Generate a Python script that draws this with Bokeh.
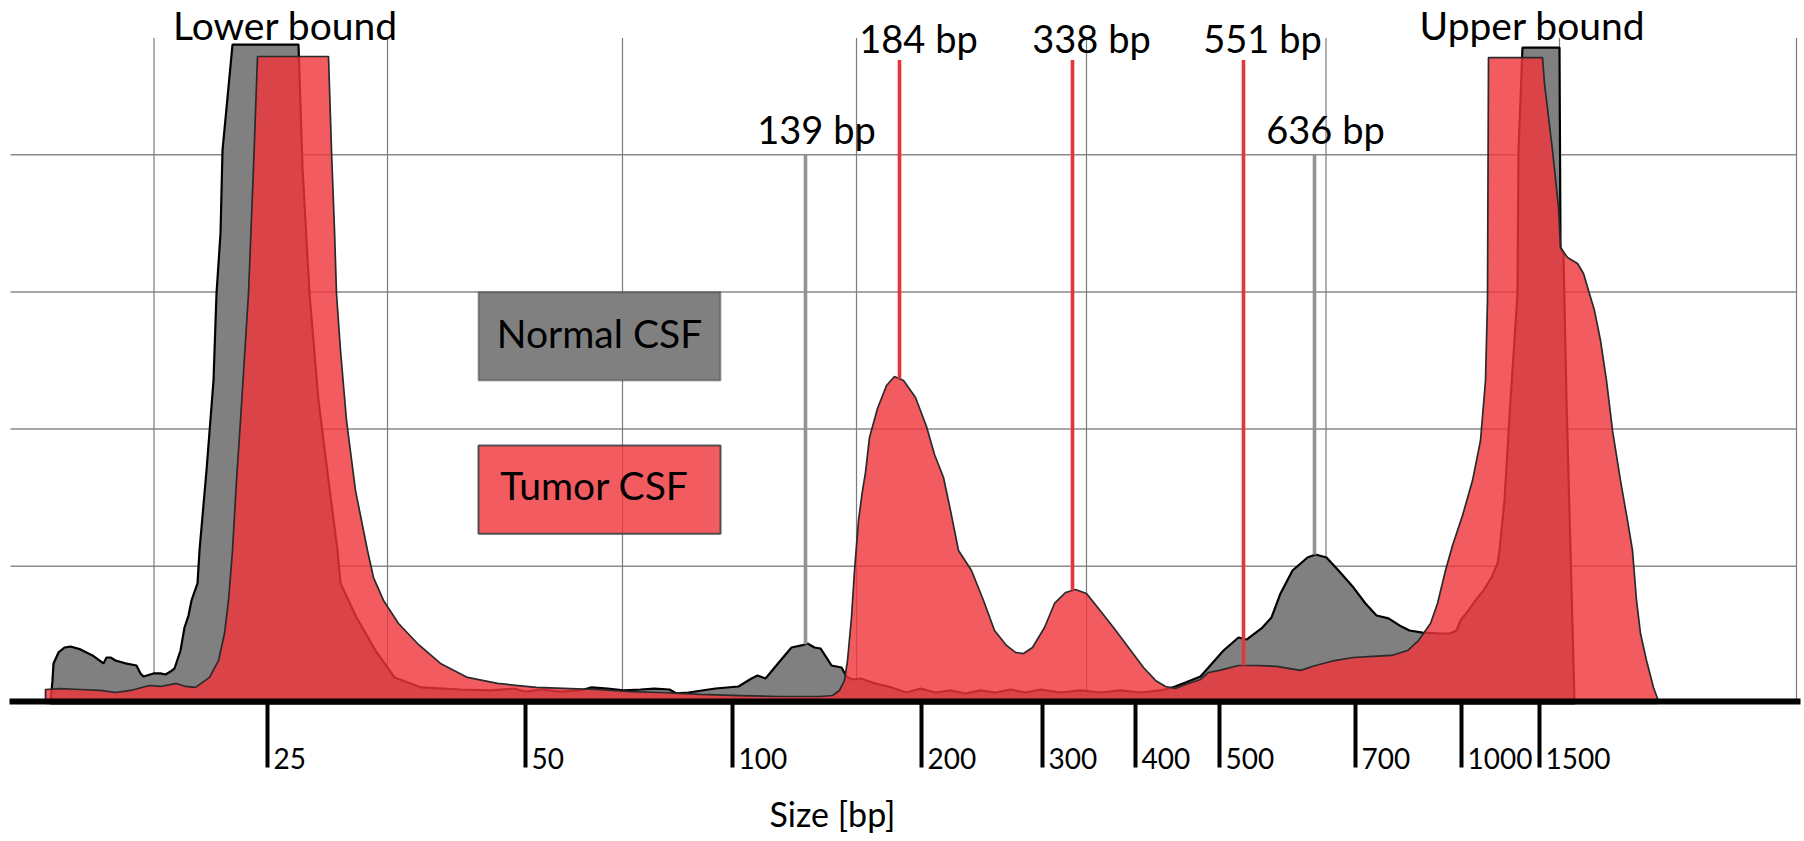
import numpy as np
from bokeh.plotting import figure
from bokeh.models import Range1d, FixedTicker, Label, BoxAnnotation, ColumnDataSource
from bokeh.core.properties import value
from bokeh.embed import file_html
from bokeh.resources import INLINE

# ---------------- data ----------------
# size ladder: labels (bp) and their migration positions
ladder_labels = ["25", "50", "100", "200", "300", "400", "500", "700", "1000", "1500"]
ladder_pos = [25.9, 51.7, 72.4, 91.3, 103.4, 112.7, 121.1, 134.7, 145.3, 153.1]

# Normal CSF trace (migration position, fluorescence)
normal_t = [4.2, 4.4, 4.5, 5.0, 5.6, 6.2, 7.2, 8.4, 9.5, 9.8,
            10.2, 10.7, 11.7, 12.8, 13.2, 13.5, 14.5, 15.2, 15.7, 16.2,
            16.6, 17.2, 17.6, 18.0, 18.3, 18.9, 19.1, 19.8, 20.5, 20.8,
            21.2, 21.4, 22.4, 29.0, 29.4, 30.1, 31.0, 32.0, 32.9, 33.2,
            34.8, 36.7, 38.6, 41.3, 45.2, 48.2, 50.5, 51.7, 53.3, 55.2,
            57.2, 58.3, 59.9, 61.5, 63.2, 64.6, 66.1, 66.8, 68.0, 70.7,
            73.0, 74.3, 74.9, 75.7, 77.2, 78.3, 79.3, 79.9, 80.6, 81.2,
            81.8, 82.3, 83.3, 83.8, 84.4, 85.2, 86.7, 88.3, 89.8, 91.2,
            92.7, 94.2, 95.7, 97.2, 98.7, 100.2, 101.7, 103.2, 105.2, 107.2,
            109.2, 111.2, 113.2, 115.2, 116.4, 117.7, 119.2, 120.0, 121.5, 123.0,
            123.8, 125.3, 126.3, 127.2, 128.4, 129.9, 130.7, 131.8, 133.0, 134.5,
            135.7, 136.8, 138.0, 139.1, 140.1, 141.4, 143.2, 144.1, 144.8, 145.2,
            146.0, 146.7, 147.5, 148.3, 148.9, 149.1, 149.6, 150.2, 150.9, 151.0,
            151.4, 155.1, 155.2, 155.5, 155.8, 156.2, 156.6]
normal_fu = [0, 16.8, 29.2, 37.2, 40.8, 41.5, 39.4, 35.0, 29.2, 33.5,
             33.5, 31.3, 29.2, 27.7, 21.9, 19.7, 21.9, 21.9, 21.1, 23.3,
             25.5, 38.6, 55.4, 64.1, 75.1, 87.5, 111.5, 169.8, 235.4, 298.8,
             342.6, 403.1, 480.3, 480.3, 390.7, 298.8, 220.8, 162.5, 111.5, 87.5,
             62.7, 38.6, 19.0, 11.7, 10.2, 9.5, 10.9, 8.7, 10.2, 8.7,
             9.5, 11.7, 10.9, 9.5, 10.2, 10.9, 10.2, 7.3, 8.0, 10.9,
             12.4, 18.2, 20.4, 18.2, 31.3, 40.8, 42.3, 43.7, 40.8, 40.1,
             33.5, 27.7, 26.2, 19.7, 17.5, 18.2, 14.6, 11.7, 8.0, 10.9,
             8.0, 9.5, 7.3, 9.5, 8.0, 10.2, 8.0, 10.2, 8.0, 9.5,
             8.0, 9.5, 8.0, 9.5, 11.7, 15.3, 19.7, 26.2, 38.6, 48.1,
             46.6, 54.7, 62.7, 80.2, 96.9, 106.4, 108.6, 106.4, 96.9, 84.5,
             72.9, 64.1, 62.0, 56.9, 53.2, 51.7, 51.0, 51.0, 53.2, 60.5,
             67.8, 75.1, 82.4, 91.8, 102.0, 111.5, 148.0, 220.8, 298.8, 403.1,
             478.1, 478.1, 332.4, 328.0, 220.8, 111.5, 0]

# Tumor CSF trace
tumor_t = [3.7, 3.7, 5.2, 7.2, 9.2, 10.7, 12.2, 14.1, 15.2, 16.8,
           17.7, 18.7, 20.1, 21.0, 21.6, 22.0, 22.4, 22.8, 23.2, 24.0,
           24.5, 24.9, 32.0, 32.3, 32.6, 32.8, 33.2, 33.8, 34.7, 35.9,
           36.5, 37.5, 39.0, 40.9, 43.2, 45.9, 48.9, 52.8, 56.2, 58.9,
           62.2, 65.2, 69.2, 73.2, 77.2, 81.2, 82.4, 83.1, 83.6, 83.9,
           84.3, 84.6, 85.0, 85.4, 85.7, 86.1, 86.9, 87.8, 88.6, 89.5,
           90.7, 91.8, 92.6, 93.5, 94.2, 95.0, 96.3, 97.5, 98.6, 99.8,
           100.7, 101.5, 102.4, 103.6, 104.6, 105.7, 106.7, 107.8, 109.0, 110.5,
           112.0, 113.5, 114.7, 115.7, 116.7, 117.7, 119.2, 120.0, 121.1, 123.0,
           124.9, 126.8, 129.2, 130.7, 132.6, 134.5, 136.4, 138.3, 139.9, 141.0,
           142.2, 142.9, 143.7, 144.4, 145.4, 146.4, 147.2, 147.7, 147.9, 148.0,
           153.4, 153.6, 154.4, 155.0, 155.2, 155.9, 156.9, 157.5, 158.0, 158.6,
           159.2, 159.8, 160.4, 161.2, 161.9, 162.4, 162.8, 163.2, 163.8, 164.5,
           164.9, 164.9]
tumor_fu = [0, 10.2, 10.9, 10.2, 9.5, 8.0, 9.5, 13.1, 12.4, 14.6,
            12.4, 11.7, 19.0, 31.3, 51.0, 75.1, 111.5, 162.5, 206.3, 298.8,
            390.7, 471.6, 471.6, 403.1, 344.8, 298.8, 257.3, 206.3, 155.2, 111.5,
            91.8, 75.1, 58.3, 43.7, 29.2, 19.0, 14.6, 11.7, 10.9, 10.2,
            8.7, 8.0, 6.6, 5.8, 5.1, 5.1, 5.8, 9.5, 16.8, 31.3,
            62.7, 96.9, 133.4, 155.2, 168.4, 193.9, 215.0, 231.8, 238.3, 235.4,
            223.0, 201.9, 181.5, 164.7, 140.7, 111.5, 96.9, 75.1, 53.2, 42.3,
            37.2, 36.4, 40.8, 55.4, 72.9, 80.9, 83.1, 80.2, 69.2, 55.4,
            40.8, 26.2, 16.8, 12.4, 10.9, 13.8, 17.5, 22.6, 24.1, 27.7,
            27.7, 27.0, 24.1, 27.7, 31.3, 33.5, 34.3, 35.0, 38.6, 45.9,
            58.3, 72.9, 96.9, 115.2, 137.0, 162.5, 191.7, 235.4, 293.7, 470.8,
            470.8, 451.9, 403.1, 361.5, 332.4, 325.1, 320.7, 313.4, 301.0, 286.4,
            264.6, 235.4, 199.0, 162.5, 133.4, 111.5, 75.1, 51.0, 31.3, 11.7,
            3.6, 0]

# annotated peaks
peak_labels = ["139 bp", "184 bp", "338 bp", "551 bp", "636 bp"]
peak_pos = [79.7, 89.1, 106.4, 123.5, 130.6]
peak_series = ["normal", "tumor", "tumor", "tumor", "normal"]

bound_labels = ["Lower bound", "Upper bound"]
legend_labels = ["Normal CSF", "Tumor CSF"]
axis_title = "Size [bp]"

gridline_fu = [100, 200, 300, 400]
gridline_t = [14.55, 37.9, 61.4, 84.8, 107.8, 131.75, 155.1, 178.8]

assert len(normal_t) == len(normal_fu)
assert len(tumor_t) == len(tumor_fu)

# ---------------- style ----------------
FONT = "Lato"
GREY = "#808080"
RED = "#EF363B"
RED_ALPHA = 0.81
RED_LINE = "#E5343A"
GREY_LINE = "#939393"
GRID = "#8a8a8a"

X_LO, X_HI = -0.8, 179.6
Y_LO, Y_HI = -100.6, 512.4
AXIS_Y = 1.46

p = figure(width=1804, height=841,
           x_range=Range1d(X_LO, X_HI), y_range=Range1d(Y_LO, Y_HI),
           output_backend="svg", toolbar_location=None, y_axis_location=None,
           min_border_left=0, min_border_right=0, min_border_top=0,
           min_border_bottom=0)
p.outline_line_color = None
p.background_fill_color = "white"
p.border_fill_color = "white"
p.grid.visible = False

# horizontal grid lines
n_h = len(gridline_fu)
p.segment(x0=[0.2] * n_h, y0=gridline_fu, x1=[178.8] * n_h, y1=gridline_fu,
          line_color=GRID, line_width=1.5)
# vertical grid lines (stop short of the top)
vtop = 485
n_v = len(gridline_t)
p.segment(x0=gridline_t, y0=[0] * n_v, x1=gridline_t, y1=[vtop] * n_v,
          line_color="#7c7c7c", line_width=1.2)

# traces
p.patch(normal_t, normal_fu, fill_color=GREY, fill_alpha=1.0,
        line_color="black", line_width=2.2)
p.patch(tumor_t, tumor_fu, fill_color=RED, fill_alpha=RED_ALPHA,
        line_color="#2a2a2a", line_width=1.7)

# peak markers
tops, bottoms, colors, xoffs, yoffs = [], [], [], [], []
for x, s in zip(peak_pos, peak_series):
    if s == "normal":
        bottoms.append(float(np.interp(x, normal_t, normal_fu)))
        tops.append(400)
        colors.append(GREY_LINE)
        xoffs.append(11)
        yoffs.append(-26)
    else:
        bottoms.append(float(np.interp(x, tumor_t, tumor_fu)))
        tops.append(469)
        colors.append(RED_LINE)
        xoffs.append(19)
        yoffs.append(-22)

p.segment(x0=peak_pos, y0=bottoms, x1=peak_pos, y1=tops,
          line_color=colors, line_width=3.6)

peak_src = ColumnDataSource(dict(x=peak_pos, y=tops, text=peak_labels,
                                 xo=xoffs, yo=yoffs))
p.text(x="x", y="y", text="text", x_offset="xo", y_offset="yo", source=peak_src,
       text_align="center", text_baseline="alphabetic",
       text_font=value(FONT), text_font_size=value("38px"), text_color="black")

bound_src = ColumnDataSource(dict(x=[ladder_pos[0], ladder_pos[-1]],
                                  y=[485.4, 485.4], text=bound_labels,
                                  xo=[18, -7]))
p.text(x="x", y="y", text="text", x_offset="xo", y_offset=-13, source=bound_src,
       text_align="center", text_baseline="alphabetic",
       text_font=value(FONT), text_font_size=value("39px"), text_color="black")

# x axis (ladder) drawn at the baseline
ax = p.xaxis[0]
ax.fixed_location = AXIS_Y
ax.bounds = (0.1, 179.2)
ax.ticker = FixedTicker(ticks=ladder_pos)
ax.major_label_overrides = {v: "" for v in ladder_pos}
ax.axis_line_width = 6
ax.axis_line_color = "black"
ax.major_tick_out = 66
ax.major_tick_in = 0
ax.major_tick_line_width = 4
ax.major_tick_line_color = "black"
ax.minor_tick_line_color = None

# ladder labels, right of each tick
tick_src = ColumnDataSource(dict(x=ladder_pos, y=[-40.0] * len(ladder_pos),
                                 text=ladder_labels))
p.text(x="x", y="y", text="text", source=tick_src, x_offset=6,
       text_align="left", text_baseline="alphabetic",
       text_font=value(FONT), text_font_size=value("28px"), text_color="black")

p.text(x=[82.4], y=[-80.0], text=[axis_title], text_align="center",
       text_baseline="alphabetic", text_font=value(FONT),
       text_font_size=value("34px"), text_color="black")

# legend boxes
p.add_layout(BoxAnnotation(left=47.0, right=71.2, bottom=235.4, top=299.8,
                           fill_color=GREY, fill_alpha=1.0,
                           line_color="black", line_width=2))
p.add_layout(BoxAnnotation(left=47.0, right=71.2, bottom=123.7, top=188.0,
                           fill_color=RED, fill_alpha=RED_ALPHA,
                           line_color="#444444", line_width=2, line_alpha=0.9))
p.add_layout(Label(x=59.1, y=270.4, text=legend_labels[0], text_align="center",
                   text_baseline="alphabetic", text_font=FONT,
                   text_font_size="39px", text_color="black"))
p.add_layout(Label(x=58.6, y=159.6, text=legend_labels[1], text_align="center",
                   text_baseline="alphabetic", text_font=FONT,
                   text_font_size="39px", text_color="black"))

open("out.html", "w").write(file_html(p, INLINE))
